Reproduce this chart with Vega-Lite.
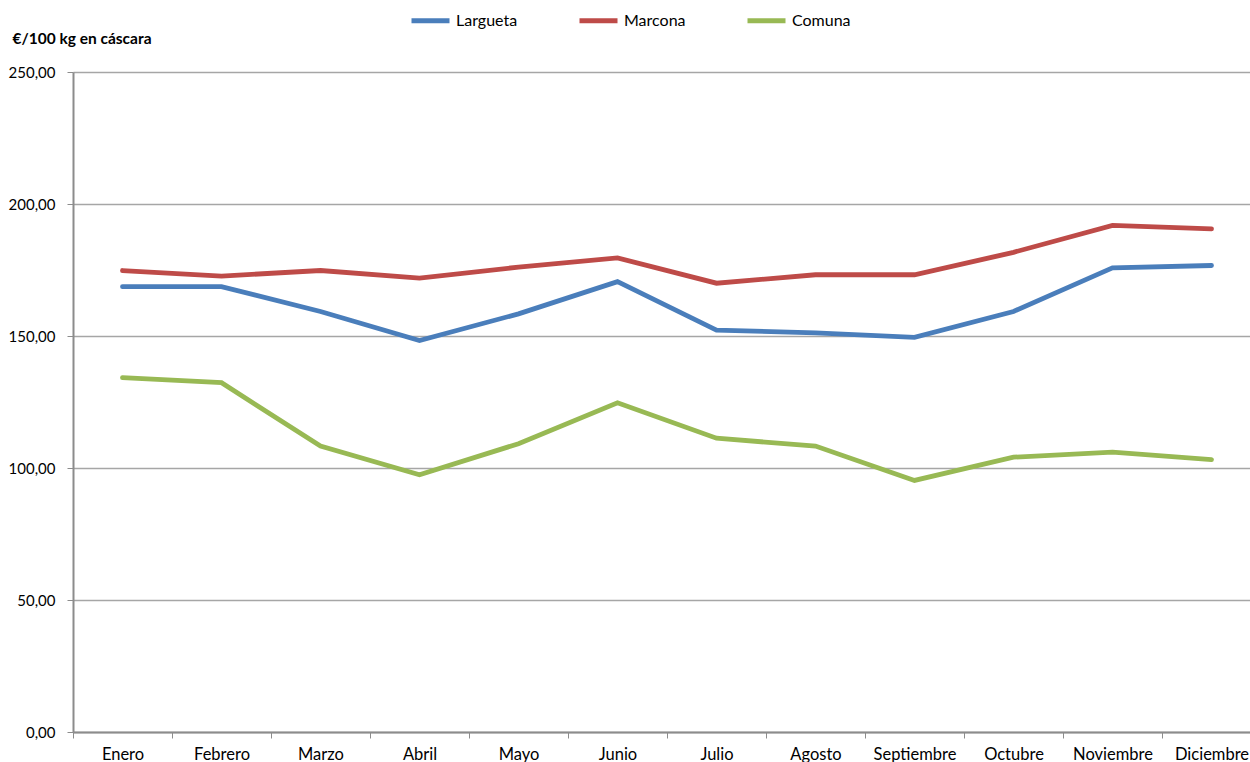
{
  "$schema": "https://vega.github.io/schema/vega-lite/v6.json",
  "autosize": "none",
  "padding": {"left": 73, "top": 72, "right": 0, "bottom": 30},
  "width": 1188,
  "height": 660,
  "background": "white",
  "config": {
    "view": {"stroke": null},
    "font": "Lato",
    "axis": {"labelFont": "Lato", "titleFont": "Lato", "labelColor": "#000000", "titleColor": "#000000"},
    "legend": {"labelFont": "Lato", "labelColor": "#000000"}
  },
  "data": {
    "values": [
      {"mes": "Enero", "serie": "Largueta", "precio": 168.7},
      {"mes": "Febrero", "serie": "Largueta", "precio": 168.7},
      {"mes": "Marzo", "serie": "Largueta", "precio": 159.3},
      {"mes": "Abril", "serie": "Largueta", "precio": 148.3},
      {"mes": "Mayo", "serie": "Largueta", "precio": 158.4},
      {"mes": "Junio", "serie": "Largueta", "precio": 170.6},
      {"mes": "Julio", "serie": "Largueta", "precio": 152.2},
      {"mes": "Agosto", "serie": "Largueta", "precio": 151.2},
      {"mes": "Septiembre", "serie": "Largueta", "precio": 149.5},
      {"mes": "Octubre", "serie": "Largueta", "precio": 159.3},
      {"mes": "Noviembre", "serie": "Largueta", "precio": 175.8},
      {"mes": "Diciembre", "serie": "Largueta", "precio": 176.7},
      {"mes": "Enero", "serie": "Marcona", "precio": 174.8},
      {"mes": "Febrero", "serie": "Marcona", "precio": 172.7},
      {"mes": "Marzo", "serie": "Marcona", "precio": 174.8},
      {"mes": "Abril", "serie": "Marcona", "precio": 171.9},
      {"mes": "Mayo", "serie": "Marcona", "precio": 176.1},
      {"mes": "Junio", "serie": "Marcona", "precio": 179.6},
      {"mes": "Julio", "serie": "Marcona", "precio": 170.0},
      {"mes": "Agosto", "serie": "Marcona", "precio": 173.2},
      {"mes": "Septiembre", "serie": "Marcona", "precio": 173.2},
      {"mes": "Octubre", "serie": "Marcona", "precio": 181.7},
      {"mes": "Noviembre", "serie": "Marcona", "precio": 191.9},
      {"mes": "Diciembre", "serie": "Marcona", "precio": 190.6},
      {"mes": "Enero", "serie": "Comuna", "precio": 134.2},
      {"mes": "Febrero", "serie": "Comuna", "precio": 132.3},
      {"mes": "Marzo", "serie": "Comuna", "precio": 108.3},
      {"mes": "Abril", "serie": "Comuna", "precio": 97.4},
      {"mes": "Mayo", "serie": "Comuna", "precio": 109.2},
      {"mes": "Junio", "serie": "Comuna", "precio": 124.7},
      {"mes": "Julio", "serie": "Comuna", "precio": 111.3},
      {"mes": "Agosto", "serie": "Comuna", "precio": 108.3},
      {"mes": "Septiembre", "serie": "Comuna", "precio": 95.3},
      {"mes": "Octubre", "serie": "Comuna", "precio": 104.1},
      {"mes": "Noviembre", "serie": "Comuna", "precio": 106.0},
      {"mes": "Diciembre", "serie": "Comuna", "precio": 103.2}
    ]
  },
  "mark": {"type": "line", "strokeWidth": 4.8, "strokeCap": "round", "strokeJoin": "miter"},
  "encoding": {
    "x": {
      "field": "mes",
      "type": "nominal",
      "sort": ["Enero", "Febrero", "Marzo", "Abril", "Mayo", "Junio", "Julio", "Agosto", "Septiembre", "Octubre", "Noviembre", "Diciembre"],
      "scale": {"type": "band", "paddingInner": 0, "paddingOuter": 0},
      "axis": {
        "title": null,
        "labelAngle": 0,
        "labelFontSize": 16.5,
        "labelPadding": 8,
        "tickBand": "extent",
        "tickSize": 6,
        "tickColor": "#8c8c8c",
        "tickWidth": 1,
        "domainColor": "#8c8c8c",
        "domainWidth": 2,
        "grid": false
      }
    },
    "y": {
      "field": "precio",
      "type": "quantitative",
      "scale": {"domain": [0, 250], "nice": false},
      "axis": {
        "values": [0, 50, 100, 150, 200, 250],
        "labelExpr": "replace(format(datum.value, '.2f'), '.', ',')",
        "labelFontSize": 15,
        "labelPadding": 12,
        "tickSize": 6,
        "tickColor": "#8c8c8c",
        "domainColor": "#8c8c8c",
        "domainWidth": 2,
        "grid": true,
        "gridColor": "#a6a6a6",
        "gridWidth": 1.3,
        "title": "€/100 kg en cáscara",
        "titleAngle": 0,
        "titleAlign": "left",
        "titleBaseline": "middle",
        "titleX": -61,
        "titleY": -34,
        "titleFontSize": 15.5,
        "titleFontWeight": "bold"
      }
    },
    "color": {
      "field": "serie",
      "type": "nominal",
      "scale": {"domain": ["Largueta", "Marcona", "Comuna"], "range": ["#4a7ebb", "#be4b48", "#98b954"]},
      "legend": {
        "title": null,
        "orient": "none",
        "direction": "horizontal",
        "legendX": 336,
        "legendY": -73,
        "symbolType": "stroke",
        "symbolSize": 1444,
        "symbolStrokeWidth": 5,
        "labelFontSize": 16,
        "labelOffset": 4,
        "columnPadding": 51
      }
    }
  }
}
